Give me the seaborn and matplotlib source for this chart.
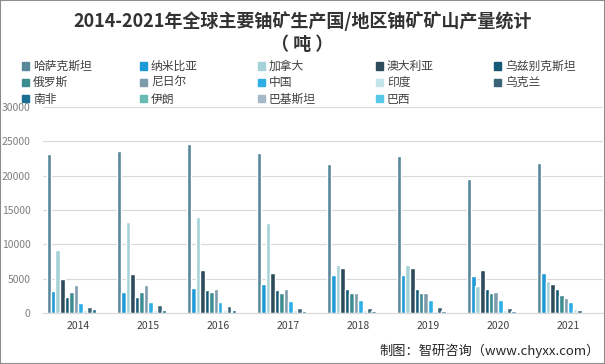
import pandas as pd
import matplotlib
matplotlib.use("Agg")
import matplotlib.pyplot as plt
from matplotlib.patches import Rectangle
import seaborn as sns

# -----------------------------
# 데이터
# -----------------------------
years = ["2014", "2015", "2016", "2017", "2018", "2019", "2020", "2021"]
countries = ["哈萨克斯坦", "纳米比亚", "加拿大", "澳大利亚", "乌兹别克斯坦",
             "俄罗斯", "尼日尔", "中国", "印度", "乌克兰",
             "南非", "伊朗", "巴基斯坦", "巴西"]

kazakhstan = [23127, 23607, 24586, 23321, 21705, 22808, 19477, 21819]
namibia = [3255, 2993, 3654, 4224, 5525, 5476, 5413, 5753]
canada = [9134, 13325, 14039, 13116, 7001, 6938, 3885, 4693]
australia = [5001, 5654, 6315, 5882, 6517, 6613, 6203, 4192]
uzbekistan = [2400, 2385, 3325, 3400, 3450, 3500, 3500, 3500]
russia = [2990, 3055, 3004, 2917, 2904, 2911, 2846, 2635]
niger = [4057, 4116, 3479, 3449, 2911, 2983, 2991, 2248]
china = [1500, 1616, 1616, 1692, 1885, 1885, 1885, 1600]
india = [385, 385, 385, 421, 423, 308, 400, 600]
ukraine = [926, 1200, 1005, 707, 790, 801, 744, 455]
south_africa = [573, 393, 490, 308, 346, 346, 250, 192]
iran = [0, 38, 0, 40, 71, 71, 71, 21]
pakistan = [45, 45, 45, 45, 45, 45, 45, 45]
brazil = [55, 40, 44, 0, 0, 0, 15, 29]

series = [kazakhstan, namibia, canada, australia, uzbekistan, russia, niger,
          china, india, ukraine, south_africa, iran, pakistan, brazil]

colors = ["#58879A", "#1E9AD6", "#A5D2D7", "#2D4B5A", "#145A78", "#3C8C91", "#7D9BAA",
          "#2DAFE6", "#C3E4E8", "#3C6478", "#196E91", "#69B9B4", "#A5B9C8", "#5AC8EB"]

rows = []
for name, vals in zip(countries, series):
    for y, v in zip(years, vals):
        rows.append({"year": y, "country": name, "value": v})
df = pd.DataFrame(rows)

# -----------------------------
# 그림
# -----------------------------
sns.set_style("white")
plt.rcParams["font.family"] = ["Noto Sans CJK SC", "DejaVu Sans"]

fig = plt.figure(figsize=(6.05, 3.64), dpi=100)
ax = fig.add_axes([43 / 605, 1 - 313 / 364, 560 / 605, 206 / 364])

sns.barplot(data=df, x="year", y="value", hue="country", order=years,
            hue_order=countries, palette=colors, width=0.9, gap=0,
            saturation=1, legend=False, ax=ax, errorbar=None)

ax.set_xlim(-0.5, 7.5)
ax.set_ylim(0, 30000)
ax.set_yticks(range(0, 30001, 5000))
ax.set_xlabel("")
ax.set_ylabel("")
ax.grid(axis="y", color="#d9d9d9", linewidth=0.8)
ax.set_axisbelow(True)
for s in ["top", "right", "left"]:
    ax.spines[s].set_visible(False)
ax.spines["bottom"].set_color("#d9d9d9")
ax.tick_params(axis="y", length=0, pad=9, labelsize=7.5, labelcolor="#7f7f7f")
ax.tick_params(axis="x", length=0, pad=6, labelsize=7.5, labelcolor="#404040")

# ─ 제목
fig.text(0.5, 1 - 21 / 364, "2014-2021年全球主要铀矿生产国/地区铀矿矿山产量统计",
         ha="center", va="center", fontsize=13, fontweight="bold", color="#333333")
fig.text(0.5, 1 - 45 / 364, "（ 吨 ）", ha="center", va="center",
         fontsize=13, fontweight="bold", color="#333333")

# ─ 범례 (5열)
for i, (name, c) in enumerate(zip(countries, colors)):
    col, row = i % 5, i // 5
    x = (22 + col * 118) / 605
    y = 1 - (66 + row * 16.5) / 364
    fig.add_artist(Rectangle((x, y - 3.5 / 364), 7 / 605, 7 / 364,
                             transform=fig.transFigure, color=c))
    fig.text(x + 11 / 605, y, name, ha="left", va="center",
             fontsize=8.5, color="#404040")

# ─ 출처
fig.text(1 - 5 / 605, 1 - 351 / 364, "制图：智研咨询（www.chyxx.com）",
         ha="right", va="center", fontsize=9.5, color="#262626")

fig.add_artist(Rectangle((0, 0), 1, 1, transform=fig.transFigure, fill=False,
                         edgecolor="#8c8c8c", linewidth=1.5))

fig.savefig("out.png", dpi=100)
